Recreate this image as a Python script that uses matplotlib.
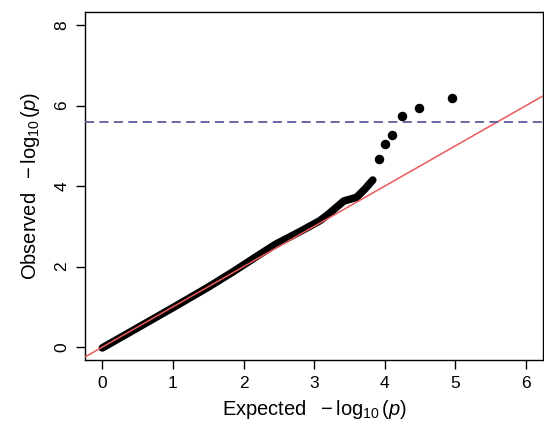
import matplotlib

matplotlib.use("Agg")
import matplotlib.pyplot as plt

plt.rcParams["font.family"] = ["Liberation Sans", "DejaVu Sans"]
plt.rcParams["mathtext.fontset"] = "custom"
plt.rcParams["mathtext.rm"] = "Liberation Sans"
plt.rcParams["mathtext.it"] = "Liberation Sans:italic"

esperado_denso = [0.0, 0.5, 1.0, 1.5, 1.85, 2.2, 2.45, 2.8, 3.08, 3.2, 3.3, 3.42, 3.6, 3.72, 3.83]
observado_denso = [-0.02, 0.48, 0.98, 1.49, 1.87, 2.27, 2.55, 2.87, 3.14, 3.3, 3.45, 3.63, 3.72, 3.93, 4.15]

# Puntos sueltos de la cola
esperado_cola = [3.92, 4.0, 4.1, 4.25, 4.48, 4.95]
observado_cola = [4.67, 5.04, 5.28, 5.73, 5.94, 6.2]

UMBRAL = 5.6

fig = plt.figure(figsize=(5.44, 4.22), dpi=100)
ax = fig.add_axes([0.157, 0.147, 0.841, 0.824])

ax.plot(esperado_denso, observado_denso, color="black", lw=5.5,
        solid_capstyle="round", solid_joinstyle="round", zorder=2)
ax.scatter(esperado_cola, observado_cola, s=34, color="black", zorder=2)

# linea y = x
ax.axline((0, 0), slope=1, color="#e85a5a", lw=1.1, zorder=3)
ax.axhline(UMBRAL, color="#5c5ca0", lw=1.3, ls=(0, (5, 3)), zorder=3)

ax.set_xlim(-0.24, 6.24)
ax.set_ylim(-0.32, 8.32)
ax.set_xticks(range(0, 7))
ax.set_yticks(range(0, 9, 2))
ax.tick_params(labelsize=12.5, length=6.5, width=1, direction="out", pad=5)
for lab in ax.get_yticklabels():
    lab.set_rotation(90)
    lab.set_va("center")

for s in ax.spines.values():
    s.set_linewidth(1)

ax.set_xlabel(r"Expected $\ -\log_{10}(p)$", fontsize=14.5, labelpad=5)
ax.set_ylabel(r"Observed $\ -\log_{10}(p)$", fontsize=14.5, labelpad=9)

fig.savefig("out.png", dpi=100)
